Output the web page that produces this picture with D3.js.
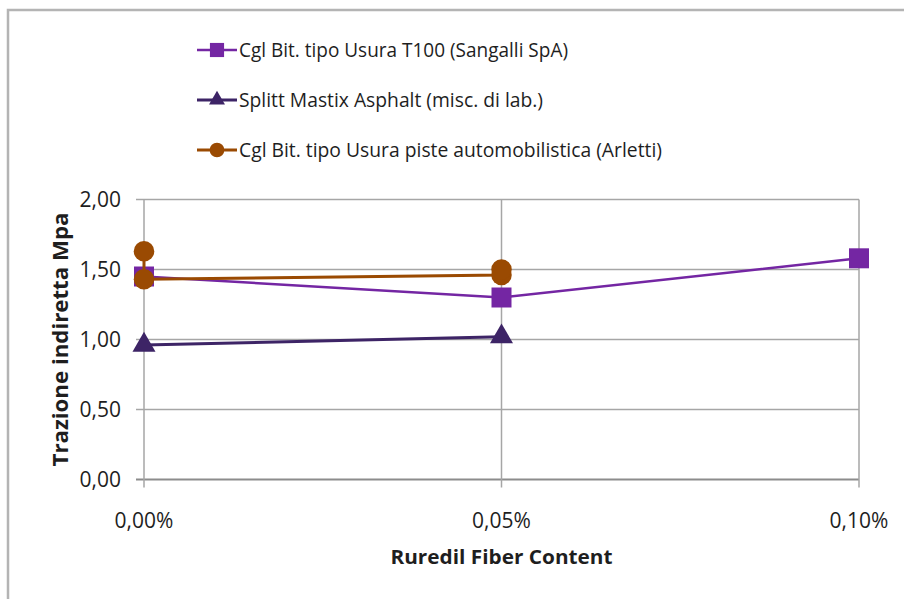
<!DOCTYPE html>
<html>
<head>
<meta charset="utf-8">
<script src="https://cdn.jsdelivr.net/npm/d3@7"></script>
<style>
  html, body { margin: 0; padding: 0; background: #fff; }
  svg { display: block; }
  text { font-family: "Open Sans", "Liberation Sans", sans-serif; fill: #1e1e1e; }
</style>
</head>
<body>
<svg id="chart" width="904" height="599"></svg>
<script>
// Fiber content (fraction of mix, %)
const fiberContent = [0.00, 0.05, 0.10];
const xTickLabels = ["0,00%", "0,05%", "0,10%"];
const yTicks = [0, 0.5, 1.0, 1.5, 2.0];
const yTickLabels = ["0,00", "0,50", "1,00", "1,50", "2,00"];

// Indirect tensile strength (MPa) per mix
const sangalliX = [0.00, 0.05, 0.10];
const sangalliY = [1.45, 1.30, 1.58];
const smaX = [0.00, 0.05];
const smaY = [0.96, 1.02];
const arlettiX = [0.00, 0.00, 0.05, 0.05];
const arlettiY = [1.63, 1.43, 1.46, 1.50];

const seriesNames = [
  "Cgl Bit. tipo Usura T100 (Sangalli SpA)",
  "Splitt Mastix Asphalt (misc. di lab.)",
  "Cgl Bit. tipo Usura piste automobilistica (Arletti)"
];

const series = [
  { name: seriesNames[0], xs: sangalliX, ys: sangalliY, color: "#7426A3", shape: "square", width: 2.5, textW: 329 },
  { name: seriesNames[1], xs: smaX, ys: smaY, color: "#3D2466", shape: "triangle", width: 3, textW: 304 },
  { name: seriesNames[2], xs: arlettiX, ys: arlettiY, color: "#9A4A02", shape: "circle", width: 3, textW: 423 }
];

const svg = d3.select("#chart");

// outer frame (top and left edges)
svg.append("path")
  .attr("d", "M8,599 L8,10 L904,10")
  .attr("fill", "none").attr("stroke", "#b4b4b4").attr("stroke-width", 2.5);

const x = d3.scaleLinear().domain([0, 0.10]).range([144, 859]);
const y = d3.scaleLinear().domain([0, 2]).range([479.5, 199.5]);

const grid = svg.append("g");
// horizontal gridlines with left tick stubs
grid.selectAll("line.h").data(yTicks).join("line")
  .attr("x1", 136).attr("x2", x(0.10))
  .attr("y1", d => y(d)).attr("y2", d => y(d))
  .attr("stroke", d => d === 0 ? "#8c8c8c" : "#a6a6a6")
  .attr("stroke-width", d => d === 0 ? 2 : 1.5);
// vertical gridlines with bottom tick stubs
grid.selectAll("line.v").data(fiberContent).join("line")
  .attr("x1", d => x(d)).attr("x2", d => x(d))
  .attr("y1", y(2)).attr("y2", y(0) + 8)
  .attr("stroke", "#a6a6a6").attr("stroke-width", 1.5);

// tick labels
svg.selectAll("text.yt").data(yTicks).join("text")
  .attr("class", "yt")
  .attr("x", 121).attr("y", d => y(d))
  .attr("dy", "0.36em").attr("text-anchor", "end")
  .attr("font-size", 21)
  .text((d, i) => yTickLabels[i]);

svg.selectAll("text.xt").data(fiberContent).join("text")
  .attr("class", "xt")
  .attr("x", d => x(d)).attr("y", 520)
  .attr("dy", "0.36em").attr("text-anchor", "middle")
  .attr("font-size", 21)
  .text((d, i) => xTickLabels[i]);

// axis titles
svg.append("text")
  .attr("x", x(0.05)).attr("y", 557)
  .attr("dy", "0.35em").attr("text-anchor", "middle")
  .attr("font-size", 20).attr("font-weight", "bold")
  .attr("textLength", 222).attr("lengthAdjust", "spacingAndGlyphs")
  .text("Ruredil Fiber Content");

svg.append("text")
  .attr("transform", `translate(61,${y(1)}) rotate(-90)`)
  .attr("dy", "0.35em").attr("text-anchor", "middle")
  .attr("font-size", 21).attr("font-weight", "bold")
  .attr("textLength", 254).attr("lengthAdjust", "spacingAndGlyphs")
  .text("Trazione indiretta Mpa");

const symbolFor = {
  square: d3.symbol().type(d3.symbolSquare).size(400),
  triangle: d3.symbol().type(d3.symbolTriangle).size(230),
  circle: d3.symbol().type(d3.symbolCircle).size(330)
};

const line = d3.line().x(d => x(d[0])).y(d => y(d[1]));

const plot = svg.append("g");
series.forEach(s => {
  const pts = s.xs.map((v, i) => [v, s.ys[i]]);
  plot.append("path")
    .datum(pts)
    .attr("d", line)
    .attr("fill", "none")
    .attr("stroke", s.color)
    .attr("stroke-width", s.width);
  plot.selectAll(null).data(pts).join("path")
    .attr("transform", d => `translate(${x(d[0])},${y(d[1])})`)
    .attr("d", symbolFor[s.shape]())
    .attr("fill", s.color);
});

// legend
const legend = svg.append("g");
const legendY = [50, 100, 150];
const legendSymbol = {
  square: d3.symbol().type(d3.symbolSquare).size(200),
  triangle: d3.symbol().type(d3.symbolTriangle).size(110),
  circle: d3.symbol().type(d3.symbolCircle).size(170)
};
series.forEach((s, i) => {
  const g = legend.append("g").attr("transform", `translate(0,${legendY[i]})`);
  g.append("line").attr("x1", 197).attr("x2", 237).attr("y1", 0).attr("y2", 0)
    .attr("stroke", s.color).attr("stroke-width", s.width);
  g.append("path").attr("transform", "translate(217,0)")
    .attr("d", legendSymbol[s.shape]())
    .attr("fill", s.color);
  g.append("text").attr("x", 239).attr("y", 0).attr("dy", "0.36em")
    .attr("font-size", 20.5)
    .attr("textLength", s.textW).attr("lengthAdjust", "spacingAndGlyphs")
    .text(s.name);
});
</script>
</body>
</html>
